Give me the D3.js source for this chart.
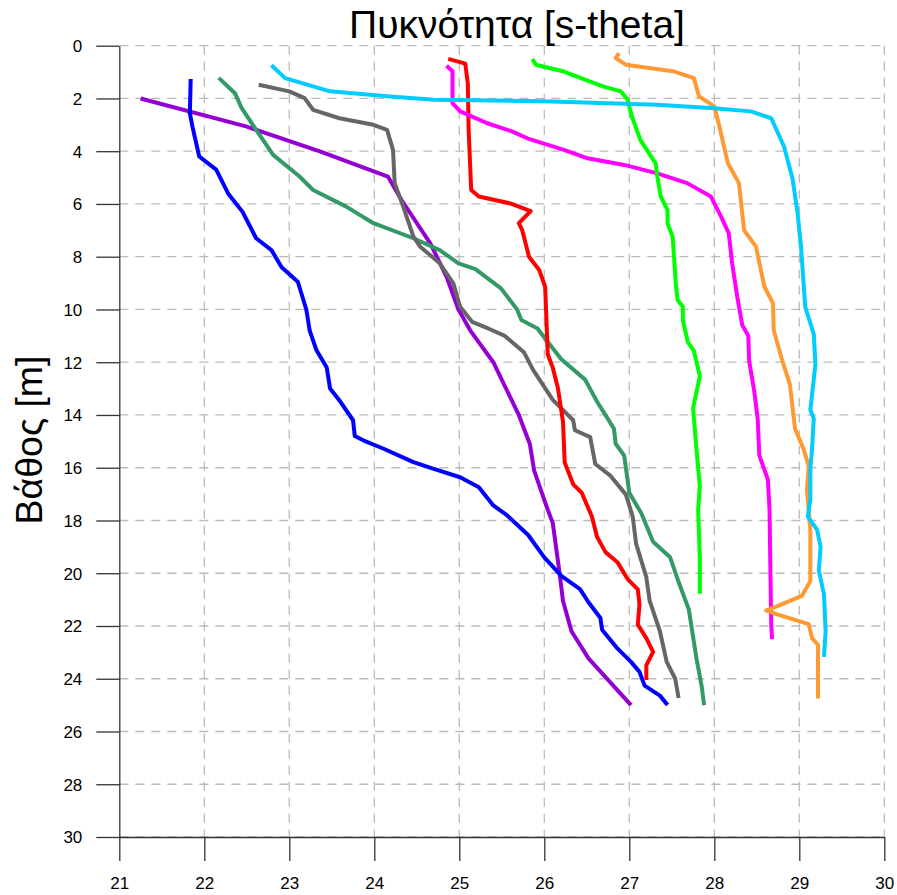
<!DOCTYPE html>
<html>
<head>
<meta charset="utf-8">
<script src="https://cdn.jsdelivr.net/npm/d3@7"></script>
<style>
  body { margin: 0; background: #fff; }
  svg { display: block; font-family: "Liberation Sans", Arial, sans-serif; }
</style>
</head>
<body>
<svg id="chart"></svg>
<script>
var width = 897,
    height = 895,
    margin = {top: 45.7, right: 12.7, bottom: 58, left: 119.3};

var xTicks = [21, 22, 23, 24, 25, 26, 27, 28, 29, 30];
var yTicks = [0, 2, 4, 6, 8, 10, 12, 14, 16, 18, 20, 22, 24, 26, 28, 30];

// [density, depth]
var purple = [[21.25,2.0],[22.49,3.06],[23.36,4.01],[24.16,4.96],[24.32,5.85],[24.66,7.5],[24.85,8.76],[24.99,10.0],[25.13,10.8],[25.40,12.0],[25.70,14.0],[25.83,15.1],[25.88,16.1],[26.03,17.5],[26.10,18.1],[26.18,20.0],[26.22,21.05],[26.32,22.2],[26.52,23.23],[27.02,25.0]];
var blue = [[21.84,1.26],[21.83,2.56],[21.86,3.06],[21.94,4.2],[22.14,4.7],[22.28,5.6],[22.45,6.3],[22.61,7.3],[22.79,7.75],[22.91,8.4],[23.10,8.95],[23.2,10.0],[23.24,10.8],[23.32,11.55],[23.44,12.2],[23.48,13.0],[23.59,13.45],[23.75,14.2],[23.77,14.8],[23.87,14.96],[24.11,15.28],[24.46,15.79],[24.70,16.04],[25.01,16.36],[25.23,16.74],[25.40,17.43],[25.56,17.8],[25.81,18.55],[26.0,19.4],[26.2,20.1],[26.42,20.6],[26.52,21.1],[26.66,21.7],[26.68,22.14],[26.86,22.85],[27.02,23.36],[27.12,23.74],[27.18,24.26],[27.36,24.64],[27.45,25.0]];
var seagreen = [[22.17,1.22],[22.36,1.8],[22.44,2.37],[22.61,3.19],[22.81,4.14],[23.12,4.96],[23.28,5.47],[23.67,6.1],[23.99,6.73],[24.46,7.3],[24.77,7.75],[24.99,8.25],[25.19,8.47],[25.49,9.2],[25.68,10.0],[25.73,10.4],[25.92,10.72],[26.0,11.06],[26.2,11.89],[26.48,12.66],[26.62,13.49],[26.82,14.52],[26.84,15.09],[26.94,15.54],[27.0,16.95],[27.14,17.72],[27.28,18.81],[27.48,19.39],[27.56,20.15],[27.70,21.37],[27.79,23.23],[27.85,24.26],[27.88,25.0]];
var gray = [[22.64,1.48],[23.0,1.73],[23.18,1.99],[23.28,2.43],[23.59,2.75],[23.99,3.0],[24.15,3.19],[24.22,3.95],[24.24,5.21],[24.34,6.1],[24.46,7.24],[24.54,7.62],[24.77,8.25],[24.93,9.01],[25.01,9.9],[25.15,10.47],[25.34,10.72],[25.53,10.99],[25.76,11.62],[25.87,12.3],[26.10,13.43],[26.34,14.2],[26.36,14.58],[26.54,14.84],[26.60,15.86],[26.78,16.31],[26.96,17.02],[27.04,17.85],[27.08,18.88],[27.20,20.15],[27.24,21.05],[27.36,22.2],[27.44,23.36],[27.54,24.0],[27.58,24.73]];
var red = [[24.87,0.5],[25.07,0.68],[25.10,1.42],[25.11,3.19],[25.14,5.47],[25.23,5.72],[25.60,5.98],[25.84,6.27],[25.70,6.73],[25.74,6.99],[25.82,8.0],[25.94,8.5],[26.01,9.14],[26.03,10.79],[26.04,11.7],[26.10,12.21],[26.16,12.98],[26.22,14.26],[26.24,15.8],[26.34,16.63],[26.44,16.95],[26.56,17.85],[26.62,18.62],[26.72,19.2],[26.86,19.58],[26.98,20.22],[27.10,20.61],[27.12,21.18],[27.10,21.95],[27.20,22.46],[27.28,22.98],[27.20,23.49],[27.20,24.05]];
var magenta = [[24.85,0.76],[24.92,0.97],[24.92,2.18],[25.01,2.49],[25.33,2.94],[25.62,3.25],[25.80,3.51],[26.23,3.95],[26.51,4.27],[26.94,4.52],[27.33,4.84],[27.68,5.21],[27.96,5.72],[28.08,6.48],[28.17,7.11],[28.21,8.25],[28.27,9.52],[28.33,10.6],[28.40,11.0],[28.41,11.95],[28.47,13.1],[28.51,14.13],[28.53,15.54],[28.63,16.44],[28.65,17.6],[28.66,19.9],[28.67,21.95],[28.68,22.5]];
var green = [[25.86,0.51],[25.90,0.72],[26.23,0.98],[26.54,1.36],[26.70,1.55],[26.90,1.73],[26.98,2.05],[27.03,2.68],[27.13,3.57],[27.31,4.46],[27.33,4.96],[27.37,5.72],[27.45,6.23],[27.45,6.73],[27.51,7.24],[27.55,9.14],[27.57,9.65],[27.63,9.9],[27.63,10.41],[27.69,11.25],[27.76,11.57],[27.83,12.53],[27.75,13.75],[27.79,15.29],[27.83,16.7],[27.81,17.6],[27.83,19.39],[27.83,20.78]];
var orange = [[26.88,0.28],[26.84,0.47],[26.96,0.72],[27.53,0.98],[27.76,1.23],[27.82,1.92],[28.0,2.3],[28.06,3.06],[28.16,4.46],[28.29,5.21],[28.35,6.99],[28.49,7.62],[28.59,9.14],[28.69,9.77],[28.70,10.8],[28.79,11.83],[28.89,12.85],[28.95,14.52],[29.05,15.29],[29.11,15.93],[29.09,16.83],[29.13,18.36],[29.13,20.29],[29.03,20.86],[28.75,21.24],[28.61,21.41],[28.75,21.57],[29.11,21.93],[29.15,22.46],[29.22,22.72],[29.22,24.75]];
var cyan = [[22.79,0.74],[22.95,1.23],[23.48,1.73],[24.15,1.92],[24.70,2.05],[25.99,2.11],[27.33,2.24],[28.0,2.37],[28.43,2.49],[28.67,2.75],[28.75,3.32],[28.82,3.82],[28.92,5.03],[28.98,6.35],[29.02,7.62],[29.07,9.9],[29.17,10.93],[29.19,12.08],[29.13,13.81],[29.17,14.13],[29.15,15.29],[29.13,16.05],[29.13,17.21],[29.10,17.85],[29.21,18.36],[29.25,19.0],[29.23,19.9],[29.29,20.8],[29.31,22.2],[29.29,23.17]];

var series = [
  {values: purple, color: "#9400d3"},
  {values: blue, color: "#0000ff"},
  {values: seagreen, color: "#339966"},
  {values: gray, color: "#666666"},
  {values: red, color: "#ff0000"},
  {values: magenta, color: "#ff00ff"},
  {values: green, color: "#00ff00"},
  {values: orange, color: "#ff9933"},
  {values: cyan, color: "#00ccff"}
];

var svg = d3.select("#chart").attr("width", width).attr("height", height);

var x = d3.scaleLinear().domain([21, 30]).range([margin.left, width - margin.right]);
var y = d3.scaleLinear().domain([0, 30]).range([margin.top, height - margin.bottom]);

// grid
var grid = svg.append("g").attr("class", "grid")
    .attr("stroke", "#bbbbbb").attr("stroke-width", 1.3).attr("stroke-dasharray", "9,7");
grid.selectAll("line.h").data(yTicks).enter().append("line")
    .attr("class", "h")
    .attr("x1", x(21)).attr("x2", x(30))
    .attr("y1", function(d) { return y(d); }).attr("y2", function(d) { return y(d); });
grid.selectAll("line.v").data(xTicks.slice(1)).enter().append("line")
    .attr("class", "v")
    .attr("y1", y(0)).attr("y2", y(30))
    .attr("x1", function(d) { return x(d); }).attr("x2", function(d) { return x(d); });

// axes
var xAxis = svg.append("g")
    .attr("transform", "translate(0," + y(30) + ")")
    .call(d3.axisBottom(x).tickValues(xTicks).tickSize(24).tickPadding(16).tickSizeOuter(0));
var yAxis = svg.append("g")
    .attr("transform", "translate(" + x(21) + ",0)")
    .call(d3.axisLeft(y).tickValues(yTicks).tickSize(23).tickPadding(14).tickSizeOuter(0));

[xAxis, yAxis].forEach(function(a) {
  a.select(".domain").attr("stroke", "#333").attr("stroke-width", 1.3);
  a.selectAll(".tick line").attr("stroke", "#333").attr("stroke-width", 1.3);
  a.selectAll(".tick text").attr("fill", "#000").style("font-size", "17px")
    .style("font-family", "'Liberation Sans', Arial, sans-serif");
});
yAxis.selectAll(".tick text").attr("dy", "0.35em");

// lines
var line = d3.line()
    .x(function(d) { return x(d[0]); })
    .y(function(d) { return y(d[1]); });

svg.append("g").selectAll("path").data(series).enter().append("path")
    .attr("d", function(d) { return line(d.values); })
    .attr("fill", "none")
    .attr("stroke", function(d) { return d.color; })
    .attr("stroke-width", 4)
    .attr("stroke-linejoin", "round");

// titles
svg.append("text")
    .attr("x", 517).attr("y", 37.5)
    .attr("text-anchor", "middle")
    .style("font-size", "39px")
    .text("Πυκνότητα [s-theta]");

svg.append("text")
    .attr("transform", "translate(42,440) rotate(-90)")
    .attr("text-anchor", "middle")
    .style("font-size", "37.5px")
    .text("Βάθος [m]");
</script>
</body>
</html>
